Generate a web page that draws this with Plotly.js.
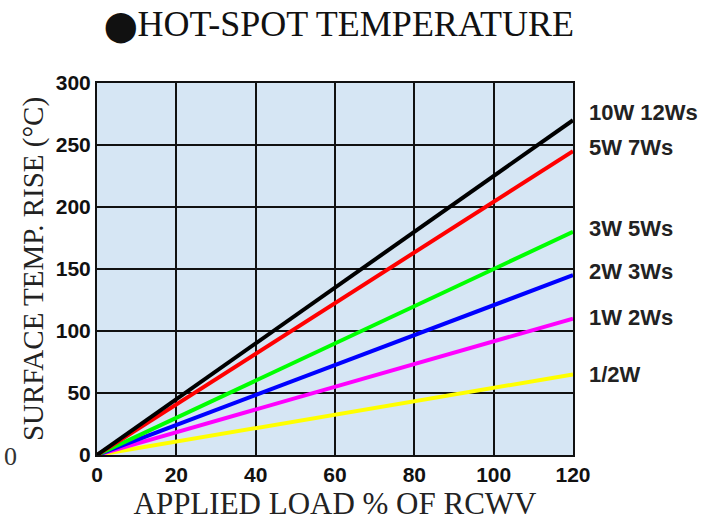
<!DOCTYPE html>
<html>
<head>
<meta charset="utf-8">
<script src="https://cdn.plot.ly/plotly-3.0.1.min.js"></script>
<style>html,body{margin:0;padding:0;background:#fff;}#chart{width:718px;height:524px;}</style>
</head>
<body>
<div id="chart"></div>
<script>
// Data
const load = [0, 120];                       // applied load % of RCWV
const seriesNames = ["10W 12Ws", "5W 7Ws", "3W 5Ws", "2W 3Ws", "1W 2Ws", "1/2W"];
const riseAt0 = [0, 0, 0, 0, 0, 0];
const riseAt120 = [270, 245, 180, 145, 110, 65];   // °C at 120 %
const seriesColors = ["#000000", "#ff0000", "#00ff00", "#0000ff", "#ff00ff", "#ffff00"];
const labelY = [276, 248, 183, 148, 111, 65];       // label anchor heights
const xTicks = [0, 20, 40, 60, 80, 100, 120];
const yTicks = [0, 50, 100, 150, 200, 250, 300];

const traces = seriesNames.map((n, i) => ({
  type: "scatter", mode: "lines", name: n,
  x: load, y: [riseAt0[i], riseAt120[i]],
  line: {color: seriesColors[i], width: 4},
  cliponaxis: true, showlegend: false
})).reverse();

const annotations = seriesNames.map((n, i) => ({
  text: n, xref: "paper", yref: "y", x: 1.03, y: labelY[i],
  xanchor: "left", yanchor: "middle", showarrow: false,
  font: {family: "Liberation Sans, Arial, sans-serif", size: 22, color: "#222", weight: "bold"}
}));
annotations.push({
  text: "0", xref: "paper", yref: "paper", x: -0.2, y: -0.005,
  xanchor: "left", yanchor: "middle", showarrow: false,
  font: {family: "Liberation Serif, Times New Roman, serif", size: 26, color: "#333"}
});

const layout = {
  width: 718, height: 524,
  margin: {l: 97, r: 145, t: 83, b: 69, pad: 0},
  paper_bgcolor: "#ffffff", plot_bgcolor: "#d6e6f4",
  title: {text: "<span style='font-family:DejaVu Sans;font-size:30px'>⬤</span>HOT-SPOT TEMPERATURE", x: 0.472, xanchor: "center", y: 0.955, yanchor: "middle",
    font: {family: "Liberation Serif, Times New Roman, serif", size: 36, color: "#111"}},
  xaxis: {range: [0, 120], tickvals: xTicks, ticktext: xTicks.map(String), showgrid: true,
    gridcolor: "#111", gridwidth: 2, zeroline: false, showline: true, linecolor: "#111", linewidth: 2,
    mirror: true, ticks: "", ticklen: 0,
    tickfont: {family: "Liberation Sans, Arial, sans-serif", size: 21, color: "#111", weight: "bold"},
    title: {text: "APPLIED LOAD % OF RCWV", standoff: 6,
      font: {family: "Liberation Serif, Times New Roman, serif", size: 31, color: "#222"}},
    automargin: false},
  yaxis: {range: [0, 300], tickvals: yTicks, ticktext: yTicks.map(String), showgrid: true,
    gridcolor: "#111", gridwidth: 2, zeroline: false, showline: true, linecolor: "#111", linewidth: 2,
    mirror: true, ticks: "", ticklen: 0,
    tickfont: {family: "Liberation Sans, Arial, sans-serif", size: 21, color: "#111", weight: "bold"},
    title: {text: "SURFACE TEMP. RISE (°C)", standoff: 4,
      font: {family: "Liberation Serif, Times New Roman, serif", size: 29, color: "#222"}},
    automargin: false},
  annotations: annotations
};

Plotly.newPlot("chart", traces, layout, {displayModeBar: false, staticPlot: true});
</script>
</body>
</html>
